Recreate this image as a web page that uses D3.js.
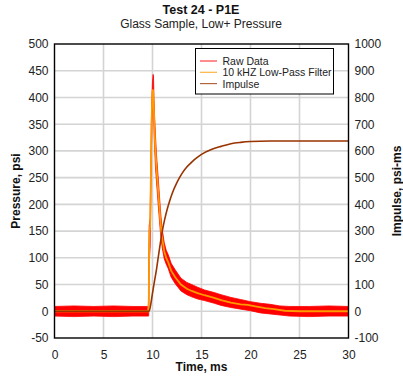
<!DOCTYPE html>
<html><head><meta charset="utf-8">
<script src="https://cdn.jsdelivr.net/npm/d3@7"></script>
<style>body{margin:0;background:#fff}svg{display:block;font-family:"Liberation Sans",Arial,sans-serif}</style>
</head><body><svg id="c" width="403" height="381"></svg>
<script>
// ---- data ----
const xTicks = [0, 5, 10, 15, 20, 25, 30];
const pTicks = [-50, 0, 50, 100, 150, 200, 250, 300, 350, 400, 450, 500];
const iTicks = [-100, 0, 100, 200, 300, 400, 500, 600, 700, 800, 900, 1000];

// 10 kHz low-pass filtered pressure (psi)
const filtTime = [0, 9.55, 9.62, 9.66, 9.7, 9.76, 9.82, 9.88, 9.94, 10.0, 10.05, 10.1, 10.15, 10.2, 10.3, 10.4, 10.5, 10.6, 10.7, 10.8, 10.9, 11.0, 11.2, 11.4, 11.6, 11.9, 12.3, 12.9, 13.5, 14, 14.6, 15.3, 16.3, 17, 18, 19, 19.7, 20.5, 21.5, 22.4, 23.5, 25, 30];
const filtP    = [0, 0, 20, 120, 150, 160, 230, 320, 380, 410, 415, 400, 370, 340, 300, 270, 245, 220, 195, 170, 150, 135, 112, 100, 92, 76, 64, 50, 42, 38, 34, 30, 25, 21, 16, 13, 12, 9, 6, 4, 1, 0, 0];

// raw data envelope (psi)
const rawTime = [0, 2, 4, 6, 8, 9.6, 9.62, 9.66, 9.7, 9.76, 9.82, 9.88, 9.94, 10.0, 10.06, 10.1, 10.15, 10.2, 10.3, 10.4, 10.5, 10.6, 10.7, 10.8, 10.9, 11.0, 11.2, 11.4, 11.6, 11.9, 12.3, 12.9, 13.5, 14, 14.6, 15.3, 16.3, 17, 18, 19, 20, 21, 22, 23, 24, 26, 28, 30];
const rawLow   = [-9, -10, -9, -10, -9, -9, -5, 90, 100, 120, 200, 290, 350, 380, 395, 380, 345, 315, 270, 245, 220, 195, 172, 150, 132, 118, 98, 88, 80, 64, 52, 38, 31, 27, 23, 20, 15, 11, 7, 4, 1, -3, -5, -7, -9, -10, -9, -9];
const rawHigh  = [9, 10, 9, 10, 9, 9, 100, 160, 165, 175, 260, 350, 400, 430, 443, 440, 400, 370, 330, 295, 270, 245, 218, 192, 170, 152, 128, 114, 106, 90, 78, 62, 54, 50, 45, 40, 35, 31, 26, 22, 18, 15, 13, 10, 9, 9, 10, 9];

// impulse (psi-ms)
const impTime = [0, 9.65, 9.75, 9.85, 10.0, 10.2, 10.4, 10.6, 10.8, 11.0, 11.25, 11.5, 11.75, 12.0, 12.5, 13.0, 13.5, 14.0, 14.5, 15.0, 16.0, 17.0, 18.0, 19.0, 20.0, 22.0, 25.0, 30.0];
const impVal  = [0, 0, 12, 32, 68, 112, 155, 205, 255, 300, 345, 382, 413, 440, 482, 515, 540, 558, 574, 587, 605, 617, 627, 632, 635, 637, 637, 637];

const legendLabels = ["Raw Data", "10 kHZ Low-Pass Filter", "Impulse"];
const colors = ["#ff0000", "#ff9900", "#993300"];

// ---- drawing ----
const svg = d3.select("#c");
const L = 54.5, R = 348.5, T = 44, B = 338;
const x = d3.scaleLinear().domain([0, 30]).range([L, R]);
const yP = d3.scaleLinear().domain([-50, 500]).range([B, T]);
const yI = d3.scaleLinear().domain([-100, 1000]).range([B, T]);

// grid
const g = svg.append("g");
g.selectAll(".vg").data(xTicks.slice(1, -1)).enter().append("line")
  .attr("x1", d => x(d)).attr("x2", d => x(d)).attr("y1", T).attr("y2", B)
  .attr("stroke", "#d4d4d4").attr("stroke-width", 1.6);
g.selectAll(".hg").data(pTicks.slice(1, -1)).enter().append("line")
  .attr("x1", L).attr("x2", R).attr("y1", d => yP(d)).attr("y2", d => yP(d))
  .attr("stroke", "#d4d4d4").attr("stroke-width", 1.6);

svg.append("defs").append("clipPath").attr("id", "clip")
  .append("rect").attr("x", L).attr("y", T).attr("width", R - L).attr("height", B - T);
const plot = svg.append("g").attr("clip-path", "url(#clip)");

// raw band
const rawData = rawTime.map((t, i) => ({t, lo: rawLow[i], hi: rawHigh[i]}));
plot.append("path").datum(rawData)
  .attr("d", d3.area().x(d => x(d.t)).y0(d => yP(d.lo)).y1(d => yP(d.hi)))
  .attr("fill", colors[0]).attr("stroke", colors[0]).attr("stroke-width", 0.8);

// filtered
plot.append("path").datum(filtTime.map((t, i) => [t, filtP[i]]))
  .attr("d", d3.line().x(d => x(d[0])).y(d => yP(d[1])))
  .attr("fill", "none").attr("stroke", colors[1]).attr("stroke-width", 1.8);

// impulse
plot.append("path").datum(impTime.map((t, i) => [t, impVal[i]]))
  .attr("d", d3.line().curve(d3.curveMonotoneX).x(d => x(d[0])).y(d => yI(d[1])))
  .attr("fill", "none").attr("stroke", colors[2]).attr("stroke-width", 1.6);

// frame
svg.append("rect").attr("x", L).attr("y", T).attr("width", R - L).attr("height", B - T)
  .attr("fill", "none").attr("stroke", "#000").attr("stroke-width", 1.4);

// axes (labels only)
const fs = 12;
const fmt = d => String(d);
const axB = svg.append("g").attr("transform", `translate(0,${B})`)
  .call(d3.axisBottom(x).tickValues(xTicks).tickFormat(fmt).tickSize(0).tickPadding(12));
const axL = svg.append("g").attr("transform", `translate(${L},0)`)
  .call(d3.axisLeft(yP).tickValues(pTicks).tickFormat(fmt).tickSize(0).tickPadding(6));
const axR = svg.append("g").attr("transform", `translate(${R},0)`)
  .call(d3.axisRight(yI).tickValues(iTicks).tickFormat(fmt).tickSize(0).tickPadding(6));
[axB, axL, axR].forEach(a => {
  a.select(".domain").remove();
  a.selectAll("text").attr("font-size", fs).attr("fill", "#222")
    .attr("font-family", "'Liberation Sans', Arial, sans-serif");
});

// titles
svg.append("text").attr("x", 201).attr("y", 14).attr("text-anchor", "middle")
  .attr("font-size", 12.5).attr("font-weight", "bold").attr("fill", "#111").text("Test 24 - P1E");
svg.append("text").attr("x", 201).attr("y", 28).attr("text-anchor", "middle")
  .attr("font-size", 12).attr("fill", "#222").text("Glass Sample, Low+ Pressure");
svg.append("text").attr("x", 201.5).attr("y", 371).attr("text-anchor", "middle")
  .attr("font-size", 12).attr("font-weight", "bold").attr("fill", "#111").text("Time, ms");
svg.append("text").attr("transform", `translate(20,${(T + B) / 2}) rotate(-90)`)
  .attr("text-anchor", "middle").attr("font-size", 12).attr("font-weight", "bold")
  .attr("fill", "#111").text("Pressure, psi");
svg.append("text").attr("transform", `translate(401,${(T + B) / 2}) rotate(-90)`)
  .attr("text-anchor", "middle").attr("font-size", 12).attr("font-weight", "bold")
  .attr("fill", "#111").text("Impulse, psi-ms");

// legend
const lg = svg.append("g");
lg.append("rect").attr("x", 195.5).attr("y", 48.5).attr("width", 138).attr("height", 45.5)
  .attr("fill", "#fff").attr("stroke", "#000").attr("stroke-width", 1);
legendLabels.forEach((lab, i) => {
  const yy = 61 + i * 11.3;
  lg.append("line").attr("x1", 200).attr("x2", 217).attr("y1", yy).attr("y2", yy)
    .attr("stroke", colors[i]).attr("stroke-width", 1.2).attr("opacity", 0.75);
  lg.append("text").attr("x", 222.5).attr("y", yy + 4).attr("font-size", 10.5)
    .attr("fill", "#222").text(lab);
});
</script>
</body></html>
